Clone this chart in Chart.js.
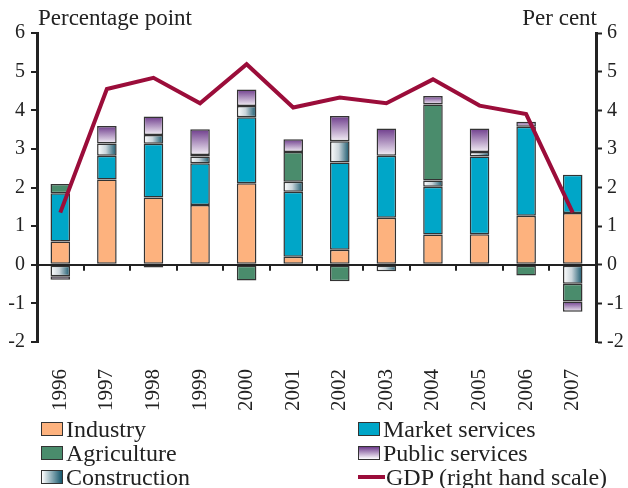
<!DOCTYPE html>
<html>
<head>
<meta charset="utf-8">
<script src="https://cdn.jsdelivr.net/npm/chart.js@4/dist/chart.umd.min.js"></script>
<style>
  body { margin: 0; background: #fff; font-family: "Liberation Serif", serif; color: #222; }
  #wrap { position: relative; width: 628px; height: 488px; }
  canvas { position: absolute; left: 0; top: 0; }
  .lbl { position: absolute; font-size: 23px; line-height: 23px; white-space: nowrap; }
  .leg { position: absolute; font-size: 24px; line-height: 24px; white-space: nowrap; display: flex; align-items: center; }
  .sw { width: 20px; height: 12px; border: 1.5px solid #333; margin-right: 3px; }
  .ln { width: 27px; height: 4px; background: #9b0d3a; margin-right: 1px; }
</style>
</head>
<body>
<div id="wrap">
  <canvas id="chart" width="628" height="488"></canvas>
  <div class="lbl" style="left:38px; top:6px;">Percentage point</div>
  <div class="lbl" style="right:31px; top:6px;">Per cent</div>

  <div class="leg" style="left:41px; top:417px;"><div class="sw" style="background:#fdb27e"></div>Industry</div>
  <div class="leg" style="left:41px; top:441px;"><div class="sw" style="background:#4a8c6c"></div>Agriculture</div>
  <div class="leg" style="left:41px; top:465px;"><div class="sw" style="background:linear-gradient(to right,#fff,#14566b)"></div>Construction</div>
  <div class="leg" style="left:358px; top:417px;"><div class="sw" style="background:#00a6c8"></div>Market services</div>
  <div class="leg" style="left:358px; top:441px;"><div class="sw" style="background:linear-gradient(to bottom,#6e3c8c,#fff)"></div>Public services</div>
  <div class="leg" style="left:358px; top:465px;"><div class="ln"></div>GDP (right hand scale)</div>
</div>
<script>
const years = ["1996", "1997", "1998", "1999", "2000", "2001", "2002", "2003", "2004", "2005", "2006", "2007"];
const industry = [0.60, 2.21, 1.74, 1.55, 2.11, 0.21, 0.39, 1.22, 0.78, 0.79, 1.27, 1.34];
const marketServices = [1.25, 0.61, 1.39, 1.08, 1.71, 1.68, 2.26, 1.60, 1.24, 2.01, 2.30, 0.99];
const construction = [-0.30, 0.32, 0.23, 0.17, 0.29, 0.26, 0.55, -0.17, 0.16, 0.12, null, -0.49];
const agriculture = [0.24, null, -0.07, 0.04, -0.41, 0.77, -0.43, null, 1.97, -0.04, -0.28, -0.46];
const publicServices = [-0.09, 0.45, 0.48, 0.67, 0.43, 0.33, 0.65, 0.71, 0.22, 0.61, 0.13, -0.27];
const gdp = [1.35, 4.55, 4.84, 4.18, 5.19, 4.07, 4.33, 4.18, 4.80, 4.12, 3.90, 1.35];
const yTicks = [-2, -1, 0, 1, 2, 3, 4, 5, 6];

const stackSeries = [industry, marketServices, construction, agriculture, publicServices];
const barFrac = 0.42;

// horizontal white -> teal gradient across each construction bar
function constructionFill(c) {
    const chart = c.chart;
    const area = chart.chartArea;
    if (!area) return '#5a8a9a';
    const cx = chart.scales.x.getPixelForValue(c.dataIndex);
    const w = area.width / years.length * barFrac;
    const g = chart.ctx.createLinearGradient(cx - w / 2, 0, cx + w / 2, 0);
    g.addColorStop(0, '#ffffff');
    g.addColorStop(0.45, '#c9d4da');
    g.addColorStop(1, '#14566b');
    return g;
}

// vertical purple -> white gradient inside each public services segment
function publicFill(c) {
    const chart = c.chart;
    const area = chart.chartArea;
    if (!area) return '#9a7ab0';
    const i = c.dataIndex;
    const v = publicServices[i] || 0;
    let base = 0;
    for (let k = 0; k < 4; k++) {
        const s = stackSeries[k][i] || 0;
        if ((v >= 0 && s > 0) || (v < 0 && s < 0)) base += s;
    }
    const ys = chart.scales.y;
    const top = ys.getPixelForValue(Math.max(base, base + v));
    const bot = ys.getPixelForValue(Math.min(base, base + v));
    const g = chart.ctx.createLinearGradient(0, top, 0, bot);
    g.addColorStop(0, '#6e3c8c');
    g.addColorStop(1, '#f4f0f6');
    return g;
}

// small tick marks on the zero line between the years
const zeroTicks = {
    id: 'zeroTicks',
    afterDatasetsDraw(chart) {
        const { ctx, chartArea } = chart;
        const y0 = chart.scales.y.getPixelForValue(0);
        const step = chartArea.width / years.length;
        ctx.save();
        ctx.strokeStyle = '#222';
        ctx.lineWidth = 2;
        for (let i = 1; i < years.length; i++) {
            const x = Math.round(chartArea.left + i * step);
            ctx.beginPath();
            ctx.moveTo(x, y0);
            ctx.lineTo(x, y0 + 6);
            ctx.stroke();
        }
        ctx.restore();
    }
};

const barStyle = { borderColor: '#333', borderWidth: 1.5, borderSkipped: false, barPercentage: barFrac, categoryPercentage: 1, order: 1, stack: 's', yAxisID: 'y' };

const tickFont = { family: 'Liberation Serif', size: 20 };

new Chart(document.getElementById('chart'), {
    type: 'bar',
    data: {
        labels: years,
        datasets: [
            { type: 'line', label: 'GDP (right hand scale)', data: gdp, yAxisID: 'y1', borderColor: '#9b0d3a', borderWidth: 4, pointRadius: 0, tension: 0, order: 0, borderJoinStyle: 'miter' },
            Object.assign({ label: 'Industry', data: industry, backgroundColor: '#fdb27e' }, barStyle),
            Object.assign({ label: 'Market services', data: marketServices, backgroundColor: '#00a6c8' }, barStyle),
            Object.assign({ label: 'Construction', data: construction, backgroundColor: constructionFill }, barStyle),
            Object.assign({ label: 'Agriculture', data: agriculture, backgroundColor: '#4a8c6c' }, barStyle),
            Object.assign({ label: 'Public services', data: publicServices, backgroundColor: publicFill }, barStyle)
        ]
    },
    options: {
        responsive: false,
        animation: false,
        devicePixelRatio: 1,
        layout: { padding: { top: 33, left: 0, right: 0, bottom: 0 } },
        plugins: { legend: { display: false }, tooltip: { enabled: false } },
        scales: {
            x: {
                stacked: true,
                grid: { display: false },
                border: { display: false },
                ticks: { color: '#222', font: { family: 'Liberation Serif', size: 21 }, minRotation: 90, maxRotation: 90, padding: 19, autoSkip: false },
                afterFit: s => { s.height = 146; }
            },
            y: {
                stacked: true,
                position: 'left',
                min: -2, max: 6,
                afterBuildTicks: s => { s.ticks = yTicks.map(v => ({ value: v })); },
                ticks: { color: '#222', font: tickFont, padding: 6 },
                grid: {
                    drawOnChartArea: true,
                    color: c => (c.tick && c.tick.value === 0) ? '#222' : 'rgba(0,0,0,0)',
                    lineWidth: 2,
                    tickColor: '#222',
                    tickWidth: 2,
                    tickLength: 6
                },
                border: { color: '#222', width: 3 },
                afterFit: s => { s.width = 37; }
            },
            y1: {
                position: 'right',
                min: -2, max: 6,
                afterBuildTicks: s => { s.ticks = yTicks.map(v => ({ value: v })); },
                ticks: { color: '#222', font: tickFont, padding: 5 },
                grid: { drawOnChartArea: false, tickColor: '#222', tickWidth: 2, tickLength: 6 },
                border: { color: '#222', width: 3 },
                afterFit: s => { s.width = 32; }
            }
        }
    },
    plugins: [zeroTicks]
});
</script>
</body>
</html>
